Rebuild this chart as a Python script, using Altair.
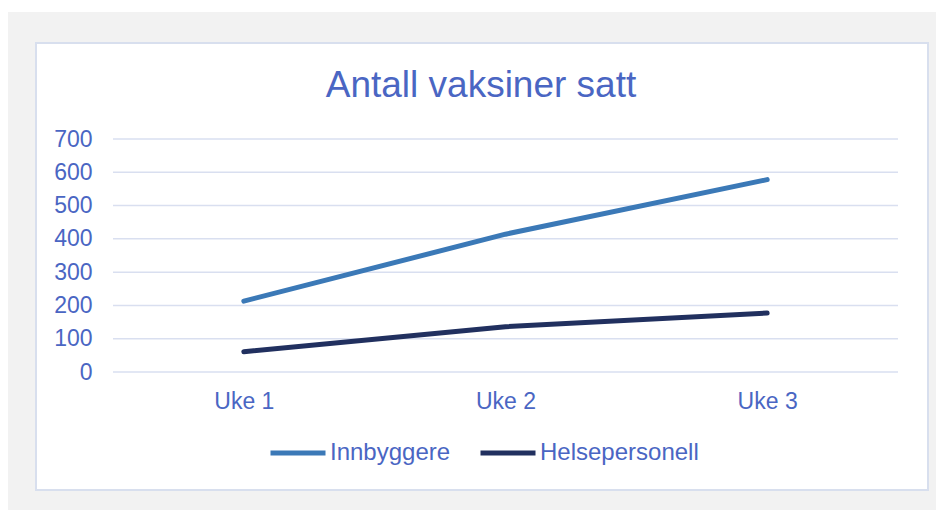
import altair as alt
import pandas as pd

# ---- data ----
uker = ["Uke 1", "Uke 2", "Uke 3"]
innbyggere = [213, 414, 578]
helsepersonell = [61, 136, 177]
serier = ["Innbyggere", "Helsepersonell"]
farger = ["#3b79b7", "#21305f"]
tittel = "Antall vaksiner satt"
y_ticks = [0, 100, 200, 300, 400, 500, 600, 700]

rows = []
for u, a, b in zip(uker, innbyggere, helsepersonell):
    rows.append({"uke": u, "serie": serier[0], "antall": a})
    rows.append({"uke": u, "serie": serier[1], "antall": b})
df = pd.DataFrame(rows)
grid_df = pd.DataFrame({"antall": y_ticks})
one = pd.DataFrame({"d": [0]})

TEXT = "#4a66c3"
FONT = "Liberation Sans"

y_scale = alt.Scale(domain=[0, 700], nice=False)
y_axis = alt.Axis(
    title=None, values=y_ticks, domain=False, ticks=False, grid=False, labelPadding=21,
    labelFontSize=23, labelColor=TEXT, labelFont=FONT, zindex=1,
)

# decorative page pieces (white strip at top, white framed chart box)
strip = alt.Chart(one).mark_rect(fill="white").encode(
    x=alt.value(-110), x2=alt.value(835), y=alt.value(-135), y2=alt.value(-127)
)
box = alt.Chart(one).mark_rect(fill="white", stroke="#d8dfee", strokeWidth=2).encode(
    x=alt.value(-77), x2=alt.value(815), y=alt.value(-96), y2=alt.value(351)
)
title = alt.Chart(one).mark_text(
    text=tittel, font=FONT, fontSize=37, color=TEXT, align="center", baseline="alphabetic"
).encode(x=alt.value(368), y=alt.value(-42))

gridlines = alt.Chart(grid_df).mark_rule(color="#d9dff0", strokeWidth=1.5).encode(
    y=alt.Y("antall:Q", scale=y_scale, axis=y_axis)
)

lines = alt.Chart(df).mark_line(strokeWidth=5, strokeCap="round", strokeJoin="round").encode(
    x=alt.X(
        "uke:N",
        sort=uker,
        scale=alt.Scale(type="point", padding=0.5),
        axis=alt.Axis(
            title=None, domain=False, ticks=False, grid=False, labelAngle=0,
            labelPadding=18, labelFontSize=23, labelColor=TEXT, labelFont=FONT, zindex=1,
        ),
    ),
    y=alt.Y("antall:Q", scale=y_scale, axis=y_axis),
    color=alt.Color(
        "serie:N",
        sort=serier,
        scale=alt.Scale(domain=serier, range=farger),
        legend=alt.Legend(
            title=None, orient="none", legendX=155, legendY=284, direction="horizontal",
            symbolType="stroke", symbolSize=3025, symbolStrokeWidth=5,
            labelFontSize=24, labelColor=TEXT, labelFont=FONT, labelOffset=2,
            columnPadding=19, padding=0,
        ),
    ),
    detail="serie:N",
)

chart = (
    alt.layer(strip, box, title, gridlines, lines)
    .properties(
        width=785,
        height=233,
        autosize=alt.AutoSizeParams(type="none"),
        padding={"left": 105, "top": 131, "right": 38, "bottom": 138},
        background="#f2f2f2",
    )
    .configure_view(stroke="transparent")
)

chart.save("out.html", embed_options={"renderer": "svg", "actions": False})
